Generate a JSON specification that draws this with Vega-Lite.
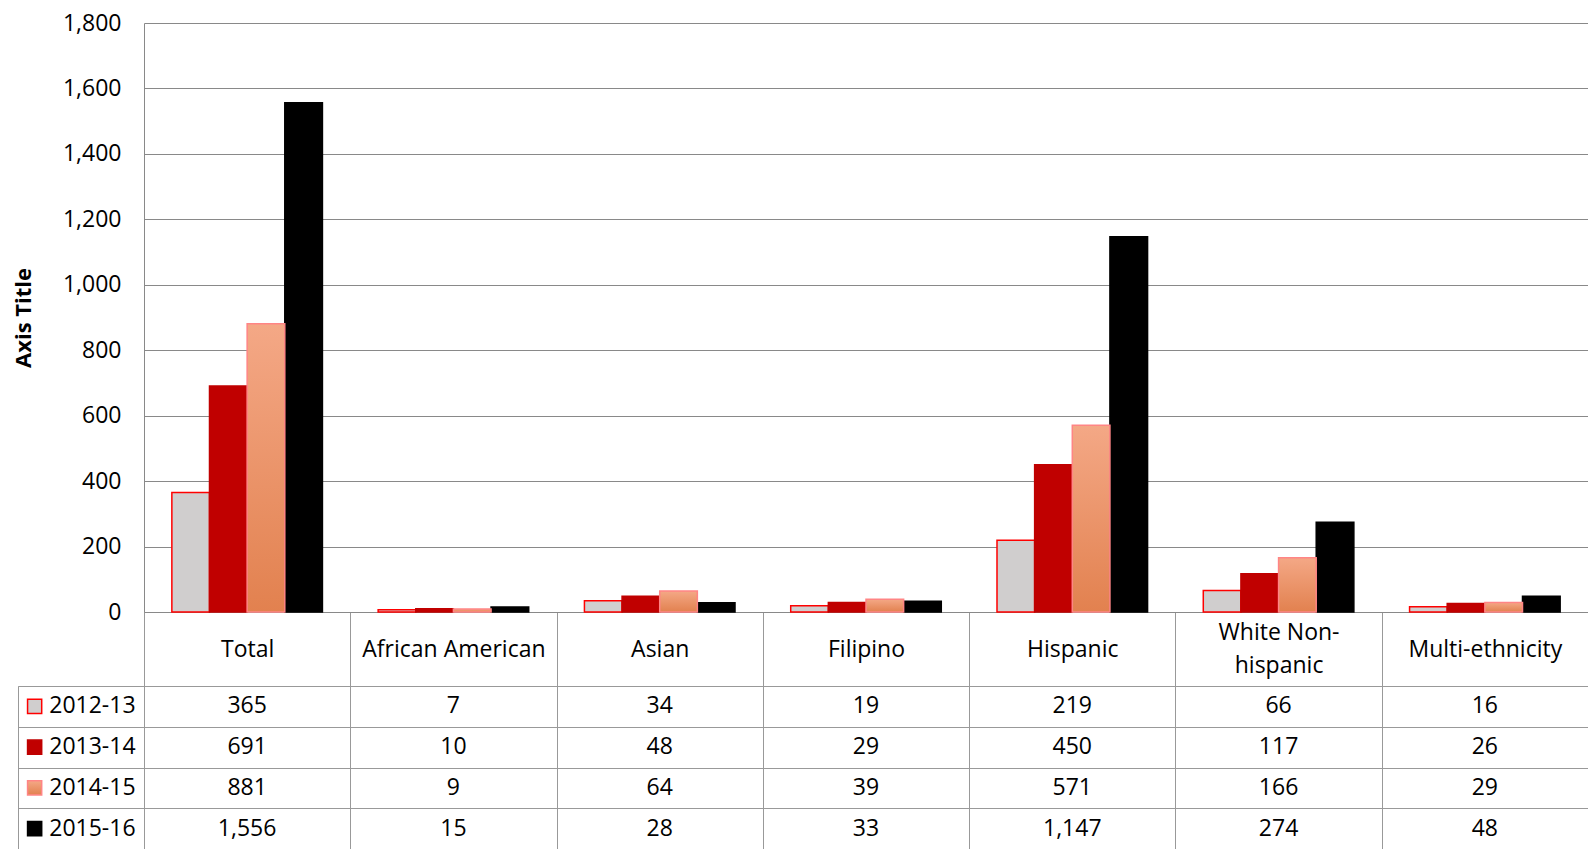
{
  "$schema": "https://vega.github.io/schema/vega-lite/v6.json",
  "padding": {"left": 12, "top": 12, "right": 0, "bottom": 0},
  "config": {"font": "Open Sans", "view": {"stroke": null}},
  "datasets": {
    "main": [
      {"category": "Total", "year": "2012-13", "value": 365},
      {"category": "Total", "year": "2013-14", "value": 691},
      {"category": "Total", "year": "2014-15", "value": 881},
      {"category": "Total", "year": "2015-16", "value": 1556},
      {"category": "African American", "year": "2012-13", "value": 7},
      {"category": "African American", "year": "2013-14", "value": 10},
      {"category": "African American", "year": "2014-15", "value": 9},
      {"category": "African American", "year": "2015-16", "value": 15},
      {"category": "Asian", "year": "2012-13", "value": 34},
      {"category": "Asian", "year": "2013-14", "value": 48},
      {"category": "Asian", "year": "2014-15", "value": 64},
      {"category": "Asian", "year": "2015-16", "value": 28},
      {"category": "Filipino", "year": "2012-13", "value": 19},
      {"category": "Filipino", "year": "2013-14", "value": 29},
      {"category": "Filipino", "year": "2014-15", "value": 39},
      {"category": "Filipino", "year": "2015-16", "value": 33},
      {"category": "Hispanic", "year": "2012-13", "value": 219},
      {"category": "Hispanic", "year": "2013-14", "value": 450},
      {"category": "Hispanic", "year": "2014-15", "value": 571},
      {"category": "Hispanic", "year": "2015-16", "value": 1147},
      {"category": "White Non-hispanic", "year": "2012-13", "value": 66},
      {"category": "White Non-hispanic", "year": "2013-14", "value": 117},
      {"category": "White Non-hispanic", "year": "2014-15", "value": 166},
      {"category": "White Non-hispanic", "year": "2015-16", "value": 274},
      {"category": "Multi-ethnicity", "year": "2012-13", "value": 16},
      {"category": "Multi-ethnicity", "year": "2013-14", "value": 26},
      {"category": "Multi-ethnicity", "year": "2014-15", "value": 29},
      {"category": "Multi-ethnicity", "year": "2015-16", "value": 48}
    ],
    "years": [
      {"year": "2012-13"},
      {"year": "2013-14"},
      {"year": "2014-15"},
      {"year": "2015-16"}
    ]
  },
  "columns": 2,
  "spacing": {"row": 74, "column": 0},
  "bounds": "flush",
  "concat": [
    {
      "width": 126,
      "height": 589,
      "data": {"values": []},
      "mark": "point",
      "encoding": {}
    },
    {
      "width": 1444,
      "height": 589,
      "data": {"name": "main"},
      "encoding": {
        "x": {
          "field": "category",
          "type": "nominal",
          "sort": ["Total", "African American", "Asian", "Filipino", "Hispanic", "White Non-hispanic", "Multi-ethnicity"],
          "scale": {"paddingInner": 0, "paddingOuter": 0},
          "axis": {
            "title": null,
            "labelAngle": 0,
            "labelFontSize": 23,
            "labelColor": "#000000",
            "tickBand": "extent",
            "tickSize": 74,
            "tickColor": "#999999",
            "domainColor": "#898989",
            "labelPadding": {"condition": {"test": "datum.value == 'White Non-hispanic'", "value": -54}, "value": -37},
            "labelBaseline": "middle",
            "labelLineHeight": 33,
            "labelLimit": 400,
            "labelOverlap": false,
            "labelExpr": "datum.label == 'White Non-hispanic' ? ['White Non-', 'hispanic'] : datum.label"
          }
        },
        "xOffset": {
          "field": "year",
          "type": "nominal",
          "scale": {"domain": ["2012-13", "2013-14", "2014-15", "2015-16"], "paddingOuter": 0.74, "paddingInner": 0}
        },
        "y": {
          "field": "value",
          "type": "quantitative",
          "scale": {"domain": [0, 1800]},
          "axis": {
            "values": [0, 200, 400, 600, 800, 1000, 1200, 1400, 1600, 1800],
            "format": ",d",
            "title": "Axis Title",
            "titleFontSize": 22,
            "titleFontWeight": "bold",
            "titleColor": "#000000",
            "titlePadding": 27,
            "labelFontSize": 23,
            "labelColor": "#000000",
            "labelPadding": 23,
            "ticks": false,
            "tickSize": 0,
            "domainColor": "#898989",
            "gridColor": "#898989"
          }
        }
      },
      "layer": [
        {
          "transform": [{"filter": "datum.year != '2014-15'"}],
          "mark": {"type": "bar", "strokeWidth": 1.5},
          "encoding": {
            "fill": {
              "field": "year",
              "type": "nominal",
              "scale": {"domain": ["2012-13", "2013-14", "2015-16"], "range": ["#D0CECE", "#C00000", "#000000"]},
              "legend": null
            },
            "stroke": {
              "field": "year",
              "type": "nominal",
              "scale": {"domain": ["2012-13", "2013-14", "2015-16"], "range": ["#FF0000", "#C00000", "#000000"]},
              "legend": null
            }
          }
        },
        {
          "transform": [{"filter": "datum.year == '2014-15'"}],
          "mark": {
            "type": "bar",
            "stroke": "#FF8585",
            "strokeWidth": 1.5,
            "fill": {
              "gradient": "linear",
              "x1": 0, "y1": 0, "x2": 0, "y2": 1,
              "stops": [
                {"offset": 0, "color": "#F4A886"},
                {"offset": 1, "color": "#E2814F"}
              ]
            }
          }
        }
      ]
    },
    {
      "width": 126,
      "height": 163,
      "data": {"name": "years"},
      "view": {"stroke": "#999999"},
      "encoding": {
        "y": {
          "field": "year",
          "type": "nominal",
          "scale": {"paddingInner": 0, "paddingOuter": 0},
          "axis": {"title": null, "labels": false, "ticks": false, "domain": false, "grid": true, "tickBand": "extent", "gridColor": "#999999"}
        }
      },
      "layer": [
        {
          "transform": [{"filter": "datum.year != '2014-15'"}],
          "mark": {"type": "point", "shape": "square", "filled": true, "size": 200, "strokeWidth": 1.5, "opacity": 1},
          "encoding": {
            "x": {"datum": 13.2, "type": "quantitative", "scale": {"domain": [0, 100]}, "axis": null},
            "fill": {
              "field": "year",
              "type": "nominal",
              "scale": {"domain": ["2012-13", "2013-14", "2015-16"], "range": ["#D0CECE", "#C00000", "#000000"]},
              "legend": null
            },
            "stroke": {
              "field": "year",
              "type": "nominal",
              "scale": {"domain": ["2012-13", "2013-14", "2015-16"], "range": ["#FF0000", "#C00000", "#000000"]},
              "legend": null
            }
          }
        },
        {
          "transform": [{"filter": "datum.year == '2014-15'"}],
          "mark": {
            "type": "point", "shape": "square", "filled": true, "size": 200, "opacity": 1,
            "stroke": "#FF8585", "strokeWidth": 1.5,
            "fill": {
              "gradient": "linear",
              "x1": 0, "y1": 0, "x2": 0, "y2": 1,
              "stops": [
                {"offset": 0, "color": "#F4A886"},
                {"offset": 1, "color": "#E2814F"}
              ]
            }
          },
          "encoding": {
            "x": {"datum": 13.2, "type": "quantitative", "scale": {"domain": [0, 100]}, "axis": null}
          }
        },
        {
          "mark": {"type": "text", "align": "left", "baseline": "middle", "fontSize": 23, "color": "#000000"},
          "encoding": {
            "x": {"datum": 24.8, "type": "quantitative", "scale": {"domain": [0, 100]}, "axis": null},
            "text": {"field": "year", "type": "nominal"}
          }
        }
      ]
    },
    {
      "width": 1444,
      "height": 163,
      "data": {"name": "main"},
      "view": {"stroke": "#999999"},
      "mark": {"type": "text", "fontSize": 23, "color": "#000000", "baseline": "middle"},
      "encoding": {
        "x": {
          "field": "category",
          "type": "nominal",
          "sort": ["Total", "African American", "Asian", "Filipino", "Hispanic", "White Non-hispanic", "Multi-ethnicity"],
          "scale": {"paddingInner": 0, "paddingOuter": 0},
          "axis": {"title": null, "labels": false, "ticks": false, "domain": false, "grid": true, "tickBand": "extent", "gridColor": "#999999"}
        },
        "y": {
          "field": "year",
          "type": "nominal",
          "scale": {"paddingInner": 0, "paddingOuter": 0},
          "axis": {"title": null, "labels": false, "ticks": false, "domain": false, "grid": true, "tickBand": "extent", "gridColor": "#999999"}
        },
        "text": {"field": "value", "type": "quantitative", "format": ",d"}
      }
    }
  ]
}
